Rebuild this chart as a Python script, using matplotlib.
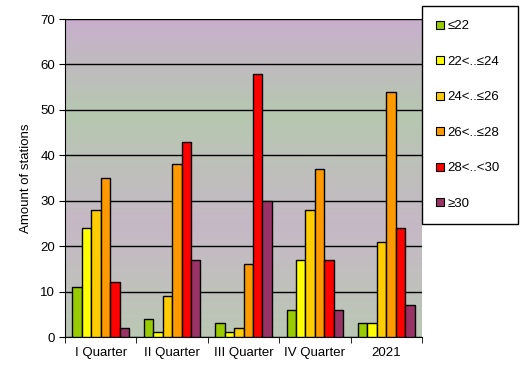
import numpy as np
import matplotlib
matplotlib.use('Agg')
import matplotlib.pyplot as plt
from matplotlib.patches import Patch

plt.rcParams['font.family'] = ['Liberation Sans', 'DejaVu Sans']

# data
groups = ['I Quarter', 'II Quarter', 'III Quarter', 'IV Quarter', '2021']
labels = ['≤22', '22<..≤24', '24<..≤26', '26<..≤28', '28<..<30', '≥30']
colors = ['#99cc00', '#ffff00', '#ffcc00', '#ff9900', '#ff0000', '#993366']
le22 = [11, 4, 3, 6, 3]
r22_24 = [24, 1, 1, 17, 3]
r24_26 = [28, 9, 2, 28, 21]
r26_28 = [35, 38, 16, 37, 54]
r28_30 = [12, 43, 58, 17, 24]
ge30 = [2, 17, 30, 6, 7]
series = [le22, r22_24, r24_26, r26_28, r28_30, ge30]

fig = plt.figure(figsize=(5.29, 3.79), dpi=100)
ax = fig.add_axes([65/529, 1 - 337/379, (422 - 65)/529, (337 - 19)/379])

# background: lavender / green gradient (the original is dithered)
top = np.array([200, 175, 205]) / 255
mid = np.array([182, 200, 176]) / 255
low = np.array([198, 184, 198]) / 255
bot = np.array([186, 200, 180]) / 255
t = np.linspace(0, 1, 200)[:, None]
grad = np.where(t < 0.3, top + (mid - top) * (t / 0.3),
                np.where(t < 0.65, mid + (low - mid) * ((t - 0.3) / 0.35),
                         low + (bot - low) * ((t - 0.65) / 0.35)))
ax.imshow(grad[:, None, :], extent=[0, 1, 0, 1], transform=ax.transAxes,
          aspect='auto', zorder=0)

x = np.arange(len(groups))
w = 0.132
for i, (vals, c) in enumerate(zip(series, colors)):
    ax.bar(x - 2.5 * w + i * w, vals, width=w, color=c, edgecolor='black',
           linewidth=1, zorder=3)

ax.set_xlim(-0.5, len(groups) - 0.5)
ax.set_ylim(0, 70)
ax.set_yticks(range(0, 71, 10))
ax.yaxis.grid(True, color='black', linewidth=1, zorder=1)
ax.set_axisbelow(True)
ax.set_xticks(x)
ax.set_xticklabels(groups, fontsize=9.5)
ax.set_xticks(np.arange(-0.5, len(groups), 1), minor=True)
ax.tick_params(axis='x', which='major', length=0, pad=7)
ax.tick_params(axis='x', which='minor', length=4, color='black')
ax.tick_params(axis='y', labelsize=9.5, length=4, color='black', pad=3)
ax.set_ylabel('Amount of stations', fontsize=9.5, labelpad=6)
for s in ['top', 'right']:
    ax.spines[s].set_visible(False)
ax.spines['left'].set_color('black')
ax.spines['bottom'].set_color('black')

handles = [Patch(facecolor=c, edgecolor='black', linewidth=0.8) for c in colors]
leg = fig.legend(handles, labels, loc='upper left',
                 bbox_to_anchor=(422/529, 1 - 220/379, 96/529, 214/379),
                 mode='expand', fontsize=9.5,
                 frameon=True, fancybox=False, labelspacing=1.78,
                 handlelength=0.55, handleheight=0.55, handletextpad=0.3,
                 borderpad=1.08, borderaxespad=0)
leg.get_frame().set_edgecolor('black')
leg.get_frame().set_linewidth(1)
leg.get_frame().set_facecolor('white')
leg.get_frame().set_alpha(1)

fig.savefig('out.png', dpi=100)
